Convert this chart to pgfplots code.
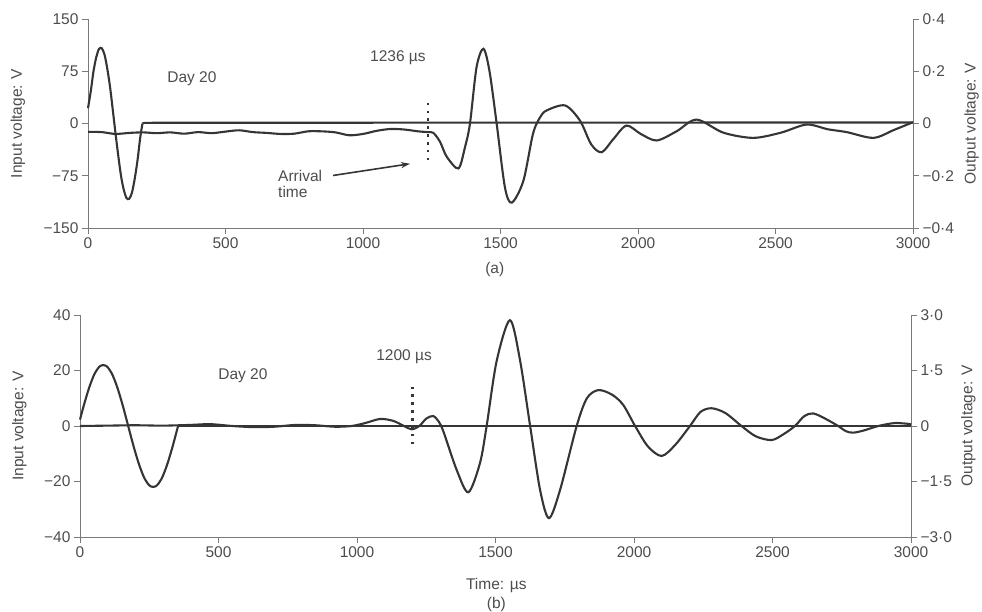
\documentclass[border=0pt]{standalone}
\usepackage{pgfplots}
\pgfplotsset{compat=1.18}
\usetikzlibrary{arrows.meta}
\usepackage{fontspec}
\setmainfont{Liberation Sans}
\definecolor{txt}{HTML}{4D4D4D}
\definecolor{crv}{HTML}{353535}
\definecolor{axc}{HTML}{7A7A7A}
\newcommand{\fs}{\fontsize{15.5}{18}\selectfont}
\tikzset{lab/.style={txt, font=\fs}}
\pgfplotsset{
  base/.style={scale only axis, clip=false, xmin=0, xmax=3000,
    tick align=outside, major tick length=6pt,
    axis line style={axc, line width=0.9pt},
    tick style={axc, line width=0.9pt},
    tick label style={txt, font=\fs}},
  crvstyle/.style={crv, line width=2.1pt, no markers},
  dotline/.style={crv, line width=2.4pt, dash pattern=on 2.4pt off 5.5pt, no markers},
}
\begin{document}
\begin{tikzpicture}
\useasboundingbox (0pt,0pt) rectangle (982pt,-612pt);
% ---------- (a) ----------
\begin{axis}[base, at={(88pt,-228pt)}, anchor=south west, width=825pt, height=209pt,
    axis x line*=bottom, axis y line*=left,
    ymin=-150, ymax=150, ytick={-150,-75,0,75,150},
    yticklabels={−150,−75,0,75,150},
    xtick={0,500,...,3000}, xticklabels={0,500,1000,1500,2000,2500,3000},
    ylabel={Input voltage: V},
    every axis y label/.style={lab, at={(axis description cs:-0.085,0.5)}, rotate=90, anchor=center},
    xlabel={(a)},
    every axis x label/.style={lab, at={(axis description cs:0.493,-0.2)}, anchor=center}]
\addplot[crvstyle, smooth] coordinates {(0,22) (10,46) (20,75) (30,95) (40,107) (50,108)
  (60,99) (70,79) (80,53) (90,20) (100,-14) (110,-46) (120,-75) (130,-95) (140,-107)
  (150,-108) (160,-99) (170,-79) (180,-53) (190,-20) (198,0)};
\addplot[crvstyle] coordinates {(198,0) (205,1) (3000,1.5)};
\addplot[dotline] coordinates {(1236,30) (1236,-57)};
\node[lab] at (axis cs:378,64.6) {Day 20};
\node[lab] at (axis cs:1127,94.7) {1236 µs};
\node[lab, anchor=west, align=left, inner sep=0pt] at (axis cs:691,-87.5) {Arrival\\[-2pt]time};
\draw[crv, line width=1.6pt, -{Stealth[length=9pt,width=6pt]}] (axis cs:891,-74.6) -- (axis cs:1171,-57.8);
\end{axis}
\begin{axis}[base, at={(88pt,-228pt)}, anchor=south west, width=825pt, height=209pt,
    axis x line=none, axis y line*=right,
    ymin=-0.4, ymax=0.4, ytick={-0.4,-0.2,0,0.2,0.4},
    yticklabels={−0·4,−0·2,0,0·2,0·4},
    ylabel={Output voltage: V},
    every axis y label/.style={lab, at={(axis description cs:1.071,0.5)}, rotate=90, anchor=center}]
\addplot[crvstyle, smooth] coordinates {(0,-0.032) (50,-0.033) (100,-0.040) (150,-0.036)
  (200,-0.034) (250,-0.037) (300,-0.034) (350,-0.039) (400,-0.033) (450,-0.037)
  (500,-0.031) (550,-0.026) (600,-0.033) (650,-0.036) (700,-0.040) (750,-0.039)
  (800,-0.030) (850,-0.030) (900,-0.034) (950,-0.045) (1000,-0.040) (1050,-0.028)
  (1100,-0.021) (1150,-0.023) (1200,-0.030) (1236,-0.033) (1256,-0.036) (1280,-0.070)
  (1305,-0.128) (1347,-0.172) (1371,-0.090) (1389,0) (1413,0.216) (1438,0.286)
  (1460,0.20) (1486,0) (1516,-0.244) (1541,-0.303) (1583,-0.22) (1618,-0.04)
  (1644,0.024) (1668,0.05) (1735,0.069) (1789,0.011) (1830,-0.08) (1868,-0.11)
  (1910,-0.06) (1958,-0.008) (2010,-0.04) (2068,-0.065) (2140,-0.03) (2213,0.015)
  (2310,-0.035) (2419,-0.055) (2520,-0.035) (2613,-0.004) (2690,-0.022) (2759,-0.033)
  (2856,-0.055) (2930,-0.025) (3000,0.005)};
\end{axis}
% ---------- (b) ----------
\begin{axis}[base, at={(80pt,-537pt)}, anchor=south west, width=831pt, height=222pt,
    axis x line*=bottom, axis y line*=left,
    ymin=-40, ymax=40, ytick={-40,-20,0,20,40},
    yticklabels={−40,−20,0,20,40},
    xtick={0,500,...,3000}, xticklabels={0,500,1000,1500,2000,2500,3000},
    ylabel={Input voltage: V},
    every axis y label/.style={lab, at={(axis description cs:-0.073,0.5)}, rotate=90, anchor=center},
    xlabel={Time: µs\\[1pt](b)},
    every axis x label/.style={lab, at={(axis description cs:0.501,-0.26)}, anchor=center, align=center}]
\addplot[crvstyle, smooth] coordinates {(0,2.3) (14,7.5) (34,14.1) (54,19.1) (74,21.7)
  (94,21.7) (114,19.1) (134,14.1) (154,7.5) (174,0) (194,-7.5) (214,-14.1) (234,-19.1)
  (254,-21.7) (274,-21.7) (294,-19.1) (314,-14.1) (334,-7.5) (354,0)};
\addplot[crvstyle] coordinates {(354,0) (3000,0)};
\addplot[dotline] coordinates {(1200,14.2) (1200,-7.5)};
\node[lab] at (axis cs:588,18.1) {Day 20};
\node[lab] at (axis cs:1170,25) {1200 µs};
\end{axis}
\begin{axis}[base, at={(80pt,-537pt)}, anchor=south west, width=831pt, height=222pt,
    axis x line=none, axis y line*=right,
    ymin=-3, ymax=3, ytick={-3,-1.5,0,1.5,3},
    yticklabels={−3·0,−1·5,0,1·5,3·0},
    ylabel={Output voltage: V},
    every axis y label/.style={lab, at={(axis description cs:1.069,0.5)}, rotate=90, anchor=center}]
\addplot[crvstyle, smooth] coordinates {(0,0) (100,0.01) (200,0.02) (300,0.01) (400,0.03)
  (470,0.05) (550,0) (625,-0.03) (700,-0.02) (780,0.03) (850,0.02) (920,-0.02) (980,0)
  (1030,0.08) (1083,0.19) (1130,0.14) (1170,0.0) (1197,-0.09) (1225,0.0) (1250,0.2)
  (1275,0.27) (1295,0.12) (1312,-0.15) (1360,-1.19) (1402,-1.79) (1444,-1.0) (1468,0)
  (1504,1.75) (1552,2.86) (1588,1.8) (1625,0) (1661,-1.73) (1693,-2.49) (1733,-1.73)
  (1793,0) (1830,0.75) (1871,0.97) (1920,0.85) (1961,0.57) (2004,0) (2050,-0.55)
  (2100,-0.81) (2150,-0.5) (2202,0) (2240,0.38) (2280,0.48) (2330,0.35) (2388,0)
  (2440,-0.28) (2497,-0.38) (2540,-0.22) (2581,0) (2615,0.27) (2647,0.34) (2690,0.2)
  (2737,0) (2765,-0.14) (2791,-0.18) (2830,-0.12) (2882,0) (2942,0.08) (3000,0.05)};
\end{axis}
\end{tikzpicture}
\end{document}
